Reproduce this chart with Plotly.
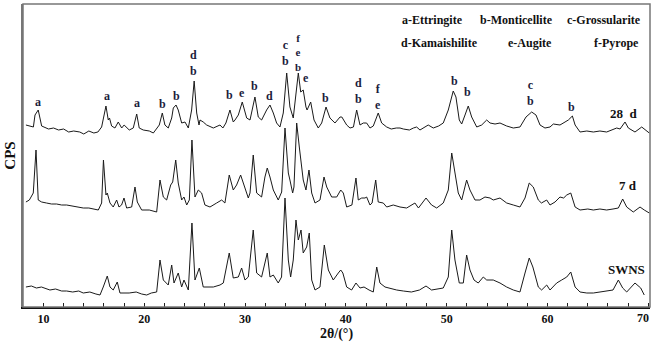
import plotly.graph_objects as go

# ---- data (2theta in degrees, intensity in arbitrary plotted units) ----
tt_28d = [8.26, 8.6, 9.0, 9.16, 9.48, 9.82, 10.5, 11.0, 11.5, 12.0, 12.5, 13.0, 13.6, 14.0, 14.5, 15.0, 15.4,
          15.77, 16.2, 16.43, 16.55, 16.76, 17.09, 17.42, 17.76, 18.0, 18.51, 18.91, 19.25, 19.5, 19.9, 20.5,
          20.9, 21.49, 21.79, 22.05, 22.38, 22.72, 22.88, 23.15, 23.37, 23.71, 24.04, 24.37, 24.7, 24.95, 25.2,
          25.43, 25.53, 25.85, 26.19, 26.85, 27.51, 27.8, 28.1, 28.5, 28.83, 29.0, 29.33, 29.72, 30.16, 30.49,
          30.98, 31.31, 31.64, 32.14, 32.47, 32.8, 33.13, 33.46, 33.79, 34.13, 34.45, 34.78, 35.28, 35.52,
          35.77, 36.04, 36.15, 36.51, 36.84, 37.26, 37.6, 38.03, 38.42, 38.92, 39.42, 39.6, 40.08, 40.41,
          40.75, 41.07, 41.4, 41.73, 42.06, 42.39, 42.72, 43.21, 43.55, 44.05, 44.5, 45.0, 45.37, 45.7, 46.3,
          46.7, 47.02, 47.35, 47.8, 48.17, 48.67, 49.2, 49.66, 50.16, 50.65, 50.92, 51.25, 51.49, 51.82,
          52.14, 52.48, 52.98, 53.47, 53.97, 54.3, 54.8, 55.29, 55.95, 56.61, 57.27, 57.87, 58.43, 58.86,
          59.26, 59.75, 60.25, 60.58, 61.24, 61.74, 62.07, 62.47, 62.74, 63.23, 63.9, 64.55, 65.2, 65.87,
          66.4, 66.87, 67.2, 67.69, 68.02, 68.68, 69.35, 69.7, 70.1]
i_28d = [182, 181, 180, 192, 197, 181, 178, 179, 177, 178, 175, 176, 175, 173, 176, 174, 175,
         180, 201, 187, 189, 181, 179, 185, 179, 182, 177, 179, 193, 179, 177, 176,
         174, 182, 194, 182, 179, 189, 199, 202, 197, 184, 185, 179, 197, 226, 194,
         182, 187, 185, 182, 179, 182, 179, 184, 197, 185, 187, 192, 205, 189, 187,
         210, 190, 187, 197, 202, 194, 184, 180, 194, 234, 200, 189, 234, 215,
         217, 200, 197, 205, 187, 179, 184, 200, 189, 184, 190, 190, 182, 179,
         180, 197, 182, 184, 184, 179, 181, 194, 184, 180, 178, 179, 179, 178, 177,
         179, 180, 177, 180, 182, 179, 181, 184, 197, 216, 210, 187, 183, 192,
         201, 190, 180, 182, 187, 184, 183, 184, 181, 179, 180, 190, 195, 192,
         182, 179, 180, 183, 182, 185, 187, 191, 182, 175, 176, 175, 176, 175,
         177, 179, 178, 185, 179, 175, 180, 177, 174]

tt_7d = [8.26, 8.6, 8.99, 9.26, 9.48, 9.82, 10.3, 10.8, 11.3, 11.8, 12.3, 12.8, 13.4, 13.95, 14.5, 15.0, 15.44,
         15.77, 15.95, 16.2, 16.33, 16.6, 16.92, 17.26, 17.49, 17.75, 17.99, 18.25, 18.75, 19.08, 19.31, 19.74,
         20.5, 21.23, 21.56, 21.89, 22.22, 22.62, 22.82, 23.12, 23.37, 23.71, 23.94, 24.21, 24.47, 24.73,
         25.03, 25.36, 25.69, 26.02, 26.52, 27.18, 27.68, 28.0, 28.43, 28.83, 29.16, 29.56, 29.99, 30.32,
         30.49, 30.81, 31.15, 31.64, 31.97, 32.2, 32.47, 32.8, 33.29, 33.63, 33.96, 34.29, 34.45, 34.72,
         34.85, 35.12, 35.38, 35.61, 35.77, 36.04, 36.34, 36.61, 36.94, 37.43, 37.83, 38.1, 38.59, 39.09,
         39.49, 39.75, 40.08, 40.6, 41.0, 41.23, 41.57, 41.9, 42.06, 42.39, 42.6, 42.96, 43.21, 43.71,
         44.05, 44.7, 45.37, 46.03, 46.85, 47.2, 47.95, 48.5, 49.01, 49.66, 50.16, 50.5, 50.82, 51.15,
         51.49, 51.98, 52.31, 52.81, 53.3, 53.8, 54.3, 54.62, 55.29, 55.95, 56.61, 57.27, 57.77, 58.19,
         58.59, 59.09, 59.4, 59.92, 60.25, 60.75, 61.24, 61.6, 61.91, 62.31, 62.74, 63.23, 64.0, 64.55,
         65.2, 65.87, 66.5, 67.03, 67.46, 67.86, 68.51, 69.18, 69.6, 70.1]
i_7d = [105, 107, 114, 157, 107, 105, 104, 103, 103, 102, 102, 101, 100, 99, 99, 98, 97,
        104, 147, 112, 114, 104, 100, 107, 100, 102, 109, 99, 100, 120, 105, 97,
        97, 95, 127, 110, 107, 122, 125, 147, 124, 107, 110, 102, 107, 167,
        110, 117, 114, 102, 100, 104, 107, 104, 132, 117, 122, 132, 120, 109,
        114, 152, 114, 110, 130, 139, 130, 117, 107, 115, 179, 134, 127, 114,
        120, 184, 160, 140, 127, 117, 137, 114, 104, 107, 130, 120, 110, 110,
        117, 114, 100, 102, 129, 107, 109, 109, 110, 102, 104, 127, 105, 104,
        100, 102, 100, 99, 104, 99, 109, 102, 99, 104, 117, 154, 134, 114,
        107, 127, 117, 107, 107, 110, 109, 107, 109, 104, 102, 100, 109, 124,
        120, 107, 104, 107, 102, 105, 110, 109, 112, 114, 100, 97, 98, 97,
        98, 97, 98, 99, 108, 100, 95, 100, 97, 94]

tt_swns = [8.26, 8.8, 9.3, 9.8, 10.64, 11.2, 11.8, 12.3, 12.9, 13.5, 13.95, 14.6, 15.2, 15.61, 15.93, 16.33,
           16.6, 16.92, 17.32, 17.59, 18.5, 19.2, 19.74, 20.24, 20.7, 21.23, 21.56, 21.89, 22.38, 22.72,
           22.95, 23.37, 23.71, 23.94, 24.37, 24.73, 25.03, 25.46, 25.85, 26.85, 27.51, 27.84, 28.43, 28.83,
           29.33, 29.66, 29.99, 30.32, 30.81, 31.15, 31.64, 32.2, 32.47, 32.8, 33.29, 33.62, 33.96, 34.29,
           34.52, 34.78, 35.05, 35.28, 35.55, 35.77, 36.11, 36.37, 36.61, 36.94, 37.43, 37.86, 38.26, 38.75,
           39.25, 39.49, 39.7, 40.08, 40.57, 41.0, 41.4, 41.8, 42.3, 42.72, 43.06, 43.38, 43.88, 44.5,
           45.04, 45.7, 46.5, 47.3, 47.95, 48.5, 49.1, 49.66, 50.16, 50.5, 50.82, 51.25, 51.65, 51.98,
           52.31, 52.71, 53.13, 53.63, 53.97, 54.62, 55.29, 55.95, 56.61, 57.27, 57.77, 58.19, 58.55,
           59.09, 59.42, 59.92, 60.25, 60.91, 61.41, 61.91, 62.31, 62.74, 63.23, 63.9, 64.55, 65.2, 65.87,
           66.5, 67.03, 67.46, 67.86, 68.68, 69.25, 69.6, 70.1]
i_swns = [20, 21, 19, 20, 17, 18, 16, 16, 15, 16, 14, 15, 13, 12, 20, 31,
          20, 17, 25, 14, 14, 15, 13, 12, 14, 15, 47, 27, 22, 42,
          24, 34, 20, 27, 17, 84, 27, 39, 20, 20, 22, 24, 54, 29,
          30, 39, 27, 30, 77, 34, 30, 54, 30, 32, 24, 30, 109, 47,
          30, 47, 87, 67, 77, 54, 60, 74, 27, 17, 20, 62, 37, 27,
          34, 37, 34, 20, 17, 24, 19, 20, 17, 15, 40, 24, 20, 18,
          17, 16, 15, 17, 21, 17, 18, 19, 30, 77, 47, 24, 24, 52,
          37, 27, 24, 30, 27, 27, 24, 20, 17, 15, 34, 49, 40,
          20, 17, 22, 17, 24, 27, 30, 35, 20, 15, 14, 14, 15,
          16, 17, 27, 19, 15, 24, 19, 12]

# peak phase labels (stacked letters read top to bottom): 2theta, height of label centre, text
pk_x = [9.42, 16.27, 19.25, 21.79, 23.15, 24.93, 28.43, 29.72, 30.98, 32.4, 34.0,
        35.28, 36.0, 37.93, 41.3, 43.21, 50.73, 52.08, 58.33, 62.4]
pk_y = [205, 211, 204, 203, 211, 244, 212, 214, 221, 211, 254,
        255, 229, 209, 216, 210, 226, 215, 214, 200]
pk_t = ["a", "a", "a", "b", "b", "d<br>b", "b", "e", "b", "d", "c<br>b",
        "f<br>e<br>b", "e", "b", "d<br>b", "f<br>e", "b", "b", "c<br>b", "b"]

phase_labels = ["a-Ettringite", "b-Monticellite", "c-Grossularite",
                "d-Kamaishilite", "e-Augite", "f-Pyrope"]
phase_x = [48.6, 56.9, 65.6, 49.3, 58.3, 66.8]
phase_y = [287, 287, 287, 264, 264, 264]

series_names = ["28  d", "7 d", "SWNS"]
series_lx = [67.6, 68.0, 67.8]
series_ly = [194, 122, 38]

x_ticks = [10, 20, 30, 40, 50, 60, 70]
x_tick_text = ["10", "20", "30", "40", "50", "60", ""]   # "70" is drawn right-aligned below

SERIF = "Liberation Serif, Times New Roman, serif"

fig = go.Figure()
for tt, ii, nm in [(tt_28d, i_28d, "28 d"), (tt_7d, i_7d, "7 d"), (tt_swns, i_swns, "SWNS")]:
    fig.add_trace(go.Scatter(x=tt, y=ii, mode="lines", name=nm,
                             line=dict(color="#1a1a1a", width=1), showlegend=False))

ann = []
for x, y, t in zip(pk_x, pk_y, pk_t):
    sz = 11 if t.count("<br>") == 2 else 12
    ann.append(dict(x=x, y=y, text=t, showarrow=False, xref="x", yref="y",
                    font=dict(family=SERIF, size=sz, color="#1c1c3c", weight="bold")))
for x, y, t in zip(phase_x, phase_y, phase_labels):
    ann.append(dict(x=x, y=y, text=t, showarrow=False, xref="x", yref="y",
                    font=dict(family=SERIF, size=12, color="#111111", weight="bold")))
for x, y, t in zip(series_lx, series_ly, series_names):
    ann.append(dict(x=x, y=y, text=t.replace("  ", "&nbsp;&nbsp;"), showarrow=False, xref="x", yref="y",
                    font=dict(family=SERIF, size=13, color="#111111", weight="bold")))
ann.append(dict(x=1, y=0, xref="paper", yref="paper", text=str(x_ticks[-1]), showarrow=False,
                xanchor="right", yanchor="top", yshift=-2, xshift=1,
                font=dict(family=SERIF, size=12, color="#111111", weight="bold")))

fig.update_layout(
    width=652, height=346,
    margin=dict(l=23, r=2, t=4, b=39, autoexpand=False),
    paper_bgcolor="white", plot_bgcolor="white",
    annotations=ann,
    shapes=[dict(type="rect", xref="paper", yref="paper", x0=0, y0=0, x1=1, y1=1,
                 line=dict(color="#777777", width=1.5), layer="above")],
    xaxis=dict(range=[7.97, 70.17], tickvals=x_ticks, ticktext=x_tick_text, ticks="inside",
               ticklen=4, tickwidth=1,
               tickcolor="#222222", showline=True, linecolor="#111111", linewidth=2,
               showgrid=False, zeroline=False, automargin=False,
               minor=dict(dtick=2, tick0=0, ticks="inside", ticklen=4, tickcolor="#222222"),
               tickfont=dict(family=SERIF, size=12, color="#111111", weight="bold"),
               title=dict(text="2θ/(°)", standoff=2,
                          font=dict(family=SERIF, size=14, color="#111111", weight="bold"))),
    yaxis=dict(range=[0, 303], showticklabels=False, ticks="", showline=True,
               linecolor="#777777", linewidth=1.5, showgrid=False, zeroline=False, automargin=False,
               title=dict(text="CPS", standoff=2,
                          font=dict(family=SERIF, size=15, color="#111111", weight="bold"))),
)

fig.write_html("out.html", config={"displayModeBar": False},
               post_script="document.body.style.margin='0px';")
